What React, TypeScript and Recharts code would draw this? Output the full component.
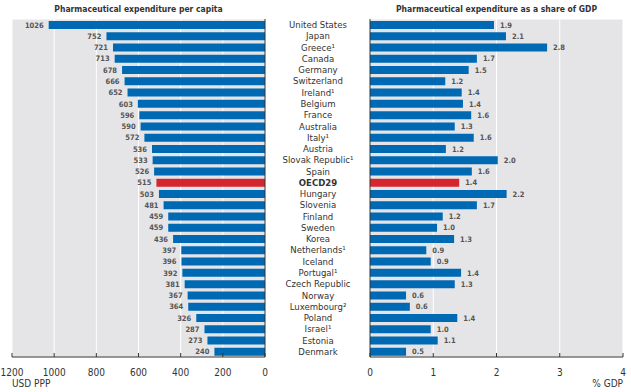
import { BarChart, Bar, XAxis, YAxis, CartesianGrid, Cell, LabelList } from "recharts";

const countries = [
  "United States", "Japan", "Greece¹", "Canada", "Germany", "Switzerland", "Ireland¹", "Belgium",
  "France", "Australia", "Italy¹", "Austria", "Slovak Republic¹", "Spain", "OECD29", "Hungary",
  "Slovenia", "Finland", "Sweden", "Korea", "Netherlands¹", "Iceland", "Portugal¹", "Czech Republic",
  "Norway", "Luxembourg²", "Poland", "Israel¹", "Estonia", "Denmark",
];
const perCapita = [
  1026, 752, 721, 713, 678, 666, 652, 603, 596, 590, 572, 536, 533, 526, 515, 503,
  481, 459, 459, 436, 397, 396, 392, 381, 367, 364, 326, 287, 273, 240,
];
// bar lengths
const gdpShare = [
  1.96, 2.15, 2.8, 1.69, 1.56, 1.19, 1.45, 1.47, 1.6, 1.34, 1.64, 1.2, 2.02, 1.61, 1.41, 2.16,
  1.69, 1.15, 1.06, 1.33, 0.89, 0.96, 1.44, 1.34, 0.57, 0.63, 1.38, 0.96, 1.07, 0.57,
];
// printed labels
const gdpLabels = [
  "1.9", "2.1", "2.8", "1.7", "1.5", "1.2", "1.4", "1.4", "1.6", "1.3", "1.6", "1.2", "2.0", "1.6", "1.4", "2.2",
  "1.7", "1.2", "1.0", "1.3", "0.9", "0.9", "1.4", "1.3", "0.6", "0.6", "1.4", "1.0", "1.1", "0.5",
];
const perCapitaTicks = [0, 200, 400, 600, 800, 1000, 1200];
const gdpTicks = [0, 1, 2, 3, 4];
const highlight = "OECD29";

const rows = countries.map((country, i) => ({
  country,
  perCapita: perCapita[i],
  gdp: gdpShare[i],
  gdpLabel: gdpLabels[i],
}));
const rowEdges = Array.from({ length: countries.length + 1 }, (_, i) => i);

const FONT = "'Liberation Sans Narrow', 'DejaVu Sans Condensed', 'Liberation Sans', sans-serif";
const BLUE = "#0069b4";
const RED = "#d5262f";
const GREY = "#e5e5e7";
const INK = "#333";

function AxisTick(props: any) {
  const { x, y, payload } = props;
  return (
    <g>
      <line x1={x} x2={x} y1={y - 4} y2={y} stroke={INK} />
      <text x={x} y={y + 19} textAnchor="middle" fontSize={10} fill={INK} fontFamily={FONT}>
        {payload.value}
      </text>
    </g>
  );
}

function CountryTick(props: any) {
  const { x, y, payload } = props;
  const bold = payload.value === highlight;
  return (
    <text
      x={x - 52}
      y={y + 3.5}
      textAnchor="middle"
      fontSize={9.5}
      fontWeight={bold ? 700 : 400}
      fill={INK}
      fontFamily={FONT}
    >
      {payload.value}
    </text>
  );
}

const titleStyle: React.CSSProperties = {
  position: "absolute",
  top: 4,
  fontFamily: FONT,
  fontWeight: 700,
  fontSize: 8.5,
  color: INK,
  textAlign: "center",
  whiteSpace: "nowrap",
};

export default function App() {
  return (
    <div style={{ position: "absolute", left: 0, top: 0, width: 631, height: 392, background: "#fff" }}>
      <div style={{ ...titleStyle, left: 12, width: 253 }}>Pharmaceutical expenditure per capita</div>
      <div style={{ ...titleStyle, left: 370, width: 253 }}>Pharmaceutical expenditure as a share of GDP</div>

      <div style={{ position: "absolute", left: 0, top: 0 }}>
        <BarChart width={280} height={392} data={rows} layout="vertical" margin={{ top: 19, right: 15, left: 12, bottom: 0 }}>
          <CartesianGrid yAxisId="edge" fill={GREY} fillOpacity={1} stroke="#fff" strokeWidth={1} />
          <XAxis
            type="number"
            dataKey="perCapita"
            domain={[0, 1200]}
            ticks={perCapitaTicks}
            reversed
            height={35}
            tickLine={false}
            tickSize={0}
            tickMargin={0}
            axisLine={{ stroke: INK }}
            tick={<AxisTick />}
            interval={0}
          />
          <YAxis yAxisId="cat" type="category" dataKey="country" hide />
          <YAxis
            yAxisId="edge"
            type="number"
            domain={[0, countries.length]}
            ticks={rowEdges}
            interval={0}
            orientation="right"
            mirror
            reversed
            tick={false}
            tickSize={3}
            tickLine={{ stroke: INK }}
            axisLine={{ stroke: INK }}
            allowDataOverflow
          />
          <Bar yAxisId="cat" dataKey="perCapita" barSize={8} isAnimationActive={false}>
            {rows.map((r) => (
              <Cell key={r.country} fill={r.country === highlight ? RED : BLUE} />
            ))}
            <LabelList dataKey="perCapita" position="right" offset={5} fontSize={7.5} fontWeight={700} fill="#555" fontFamily={FONT} />
          </Bar>
        </BarChart>
      </div>

      <div style={{ position: "absolute", left: 265, top: 0 }}>
        <BarChart width={366} height={392} data={rows} layout="vertical" margin={{ top: 19, right: 8, left: 0, bottom: 0 }}>
          <CartesianGrid yAxisId="edge" fill={GREY} fillOpacity={1} stroke="#fff" strokeWidth={1} />
          <XAxis
            type="number"
            dataKey="gdp"
            domain={[0, 4]}
            ticks={gdpTicks}
            height={35}
            tickLine={false}
            tickSize={0}
            tickMargin={0}
            axisLine={{ stroke: INK }}
            tick={<AxisTick />}
            interval={0}
          />
          <YAxis
            yAxisId="cat"
            type="category"
            dataKey="country"
            width={105}
            interval={0}
            tickLine={false}
            axisLine={false}
            tickSize={0}
            tickMargin={0}
            tick={<CountryTick />}
          />
          <YAxis
            yAxisId="edge"
            type="number"
            domain={[0, countries.length]}
            ticks={rowEdges}
            interval={0}
            orientation="left"
            mirror
            reversed
            tick={false}
            tickSize={3}
            tickLine={{ stroke: INK }}
            axisLine={{ stroke: INK }}
            allowDataOverflow
          />
          <Bar yAxisId="cat" dataKey="gdp" barSize={8} isAnimationActive={false}>
            {rows.map((r) => (
              <Cell key={r.country} fill={r.country === highlight ? RED : BLUE} />
            ))}
            <LabelList dataKey="gdpLabel" position="right" offset={6} fontSize={7.5} fontWeight={700} fill="#555" fontFamily={FONT} />
          </Bar>
        </BarChart>
      </div>

      <div style={{ position: "absolute", left: 12, top: 378, fontFamily: FONT, fontSize: 10, color: INK }}>USD PPP</div>
      <div style={{ position: "absolute", left: 523, width: 100, textAlign: "right", top: 378, fontFamily: FONT, fontSize: 10, color: INK }}>% GDP</div>
    </div>
  );
}
